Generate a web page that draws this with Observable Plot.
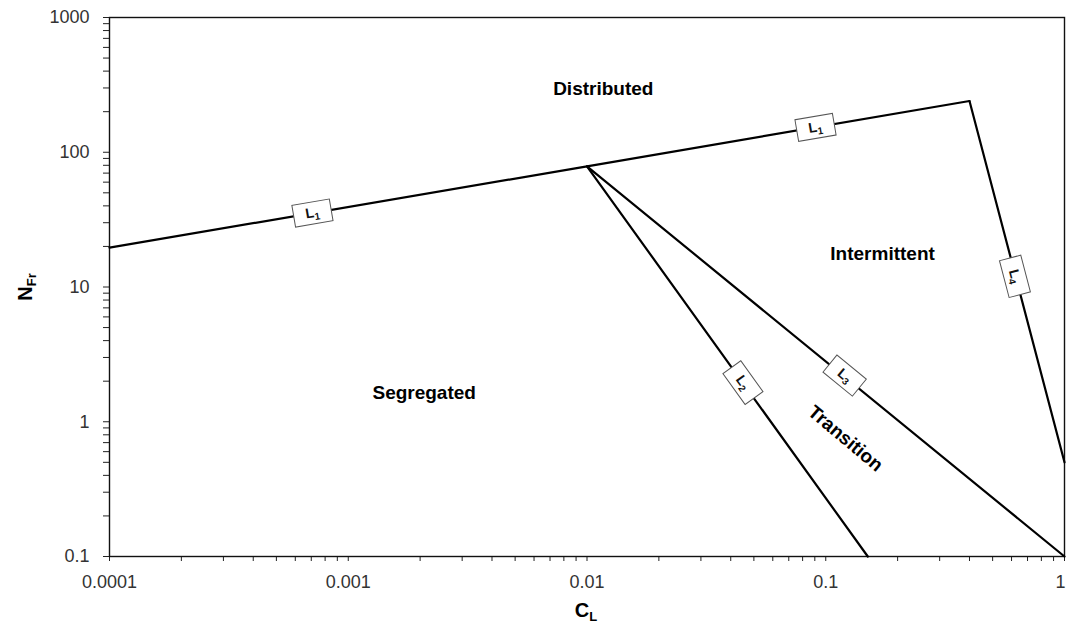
<!DOCTYPE html>
<html>
<head>
<meta charset="utf-8">
<script src="https://cdn.jsdelivr.net/npm/d3@7"></script>
<script src="https://cdn.jsdelivr.net/npm/@observablehq/plot@0.6"></script>
<style>
  body { margin: 0; background: #fff; }
  svg { display: block; }
</style>
</head>
<body>
<div id="chart"></div>
<script>
// Flow-pattern boundaries on the C_L / N_Fr map (log-log), straight segments by endpoints
const l1CL = [0.0001, 0.01, 0.4];
const l1NFr = [19.6, 78.6, 240];
const l2CL = [0.01, 0.15];
const l2NFr = [78.6, 0.1];
const l3CL = [0.01, 1];
const l3NFr = [78.6, 0.1];
const l4CL = [0.4, 1];
const l4NFr = [240, 0.5];

// Boundary tags (L1..L4) placed on the lines
const tagIndex = ["1", "1", "2", "3", "4"];
const tagCL = [0.000708, 0.0906, 0.045, 0.12, 0.62];
const tagNFr = [35.4, 153, 1.95, 2.2, 12];
const tagAngle = [-9.7, -9.7, 54.3, 39.3, 75.3];

// Flow regime names
const regionNames = ["Distributed", "Intermittent", "Segregated", "Transition"];
const regionCL = [0.0117, 0.173, 0.00208, 0.121];
const regionNFr = [297, 17.7, 1.65, 0.75];
const regionAngle = [0, 0, 0, 40];

// Axis tick labels
const xDecades = [0.0001, 0.001, 0.01, 0.1, 1];
const yDecades = [0.1, 1, 10, 100, 1000];

const segments = [
  ["L1", l1CL, l1NFr], ["L2", l2CL, l2NFr], ["L3", l3CL, l3NFr], ["L4", l4CL, l4NFr]
].flatMap(([name, xs, ys]) => xs.map((x, i) => ({line: name, CL: x, NFr: ys[i]})));

const tags = tagIndex.map((k, i) => ({
  label: "L" + k, CL: tagCL[i], NFr: tagNFr[i], angle: tagAngle[i]
}));
const regions = regionNames.map((name, i) => ({
  name, CL: regionCL[i], NFr: regionNFr[i], angle: regionAngle[i]
}));

const minorTicks = (decades) => d3.scaleLog().domain(d3.extent(decades)).ticks()
  .filter(v => !decades.some(d => Math.abs(v / d - 1) < 1e-9));

// Rectangular tag box drawn around each boundary label
const boxSymbol = { draw(context) { context.rect(-19, -11, 38, 22); } };

const font = "'Liberation Sans', Arial, Helvetica, sans-serif";
const tickText = {tickFormat: d => String(d), tickSize: 5, tickPadding: 14, fontSize: 18, fill: "#333", stroke: "#222", label: null};

const plot = Plot.plot({
  width: 1067,
  height: 628,
  marginLeft: 109,
  marginRight: 3,
  marginTop: 17,
  marginBottom: 72,
  style: { fontFamily: font, background: "#fff", color: "#000" },
  x: { type: "log", domain: [0.0001, 1] },
  y: { type: "log", domain: [0.1, 1000] },
  marks: [
    Plot.axisX(xDecades, {...tickText, className: "x-decades"}),
    Plot.axisX(minorTicks(xDecades), {tickFormat: () => "", tickSize: 5, stroke: "#222", label: null}),
    Plot.axisY(yDecades, {...tickText, tickSize: 6}),
    Plot.axisY(minorTicks(yDecades), {tickFormat: () => "", tickSize: 6, stroke: "#222", label: null}),
    Plot.frame({stroke: "#111", strokeWidth: 1.4}),
    Plot.line(segments, {x: "CL", y: "NFr", z: "line", stroke: "#000", strokeWidth: 2.2}),
    Plot.dot(tags, {x: "CL", y: "NFr", rotate: "angle", symbol: boxSymbol, r: 10, fill: "#fff", stroke: "#555", strokeWidth: 1}),
    Plot.text(tags, {x: "CL", y: "NFr", text: "label", rotate: "angle", fontSize: 14, fontWeight: "bold", fill: "#111", className: "tag-label"}),
    Plot.text(regions, {x: "CL", y: "NFr", text: "name", rotate: "angle", fontSize: 19, fontWeight: "bold", fill: "#000"})
  ]
});

const svg = d3.select(plot);

// Keep the rightmost x label inside the page
const xLabels = svg.selectAll("g.x-decades text").nodes();
if (xLabels.length) d3.select(xLabels[xLabels.length - 1]).attr("dx", -4);

// Boundary tags: letter with a subscript index
svg.selectAll("g.tag-label text").each(function () {
  const t = d3.select(this);
  const s = t.text();
  t.text(null);
  t.append("tspan").text(s[0]);
  t.append("tspan").attr("dy", "0.3em").attr("font-size", "0.7em").text(s.slice(1));
});

// Axis titles with subscripts
const xTitle = svg.append("text")
  .attr("x", 586).attr("y", 617)
  .attr("text-anchor", "middle")
  .attr("font-family", font).attr("font-weight", "bold").attr("font-size", 20)
  .attr("fill", "#000");
xTitle.append("tspan").text("C");
xTitle.append("tspan").attr("dy", "0.3em").attr("font-size", 13).text("L");

const yTitle = svg.append("text")
  .attr("transform", "translate(32,287) rotate(-90)")
  .attr("text-anchor", "middle")
  .attr("font-family", font).attr("font-weight", "bold").attr("font-size", 20)
  .attr("fill", "#000");
yTitle.append("tspan").text("N");
yTitle.append("tspan").attr("dy", "0.3em").attr("font-size", 13).text("Fr");

document.getElementById("chart").appendChild(plot);
</script>
</body>
</html>
